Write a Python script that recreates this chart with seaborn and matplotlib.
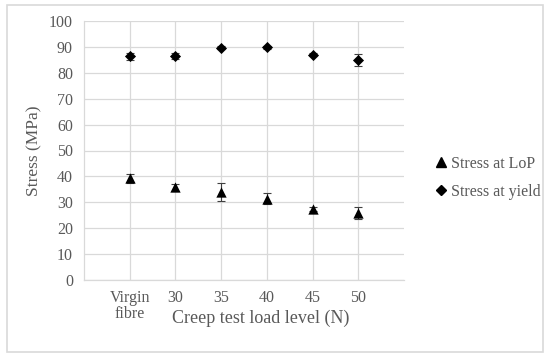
import matplotlib
matplotlib.use("Agg")
import matplotlib.pyplot as plt
import seaborn as sns
import pandas as pd
from matplotlib.patches import Rectangle
from matplotlib.lines import Line2D

categories = ["Virgin\nfibre", "30", "35", "40", "45", "50"]
lop_values = [39.3, 35.8, 34.0, 31.4, 27.3, 25.8]
lop_errors = [1.8, 1.3, 3.5, 2.0, 0.8, 2.3]
yield_values = [86.3, 86.5, 89.6, 89.9, 87.0, 85.0]
yield_errors = [1.5, 1.0, 0.6, 0.6, 0.6, 2.3]
series_names = ["Stress at LoP", "Stress at yield"]

positions = list(range(1, len(categories) + 1))
df = pd.DataFrame({
    "pos": positions * 2,
    "value": lop_values + yield_values,
    "err": lop_errors + yield_errors,
    "series": [series_names[0]] * len(positions) + [series_names[1]] * len(positions),
})

sns.set_theme(style="white")
plt.rcParams['font.family'] = ['Liberation Serif', 'DejaVu Serif']
txt = "#595959"
grid = "#d9d9d9"

fig = plt.figure(figsize=(5.5, 3.6), dpi=100)
ax = fig.add_axes([84/550, 1-280/360, (404-84)/550, (280-21)/360])

for name in series_names:
    sub = df[df.series == name]
    ax.errorbar(sub.pos, sub.value, yerr=sub.err, fmt="none", ecolor="#404040",
                elinewidth=0.8, capsize=3, capthick=0.8, zorder=3)

marker_for = {series_names[0]: "^", series_names[1]: "D"}
size_for = {series_names[0]: 55, series_names[1]: 32}
for name in series_names:
    sns.scatterplot(data=df[df.series == name], x="pos", y="value",
                    marker=marker_for[name], color="black", s=size_for[name],
                    edgecolor="black", linewidth=0, ax=ax, legend=False, zorder=4)

ax.set_xlim(0, 7)
ax.set_ylim(0, 100)
ax.set_xticks(positions)
ax.set_xticklabels(categories, color=txt, fontsize=11.5, linespacing=1.05)
ax.set_yticks(range(0, 101, 10))
ax.set_yticklabels([str(v) for v in range(0, 101, 10)], color=txt, fontsize=11.5)
ax.tick_params(axis="x", length=0, pad=7)
ax.tick_params(axis="y", length=0, pad=8)
ax.grid(True, color=grid, linewidth=0.9)
ax.set_axisbelow(True)
for s in ["top", "right"]:
    ax.spines[s].set_visible(False)
ax.spines["left"].set_color(grid)
ax.spines["bottom"].set_color(grid)
ax.spines["left"].set_linewidth(0.9)
ax.spines["bottom"].set_linewidth(0.9)
ax.set_xlabel("")
ax.set_ylabel("Stress (MPa)", color=txt, fontsize=12.5)
ax.yaxis.set_label_coords((42 - 84) / 320, 0.5)
fig.text(261/550, 1-318/360, "Creep test load level (N)", color=txt,
         fontsize=13, ha="center", va="center")

handles = [Line2D([], [], marker="^", color="black", linestyle="none", markersize=7),
           Line2D([], [], marker="D", color="black", linestyle="none", markersize=5)]
leg = fig.legend(handles, series_names, loc="center left",
                 bbox_to_anchor=(425/550, 1-178/360), frameon=False,
                 fontsize=11.5, handletextpad=0.0, handlelength=1.2,
                 labelspacing=0.75, borderaxespad=0)
for t in leg.get_texts():
    t.set_color(txt)

fig.patches.append(Rectangle((7/550, 1-352/360), (543-7)/550, (352-5)/360,
                             transform=fig.transFigure, fill=False,
                             edgecolor="#d9d9d9", linewidth=1.2))

fig.savefig("out.png", dpi=100)
